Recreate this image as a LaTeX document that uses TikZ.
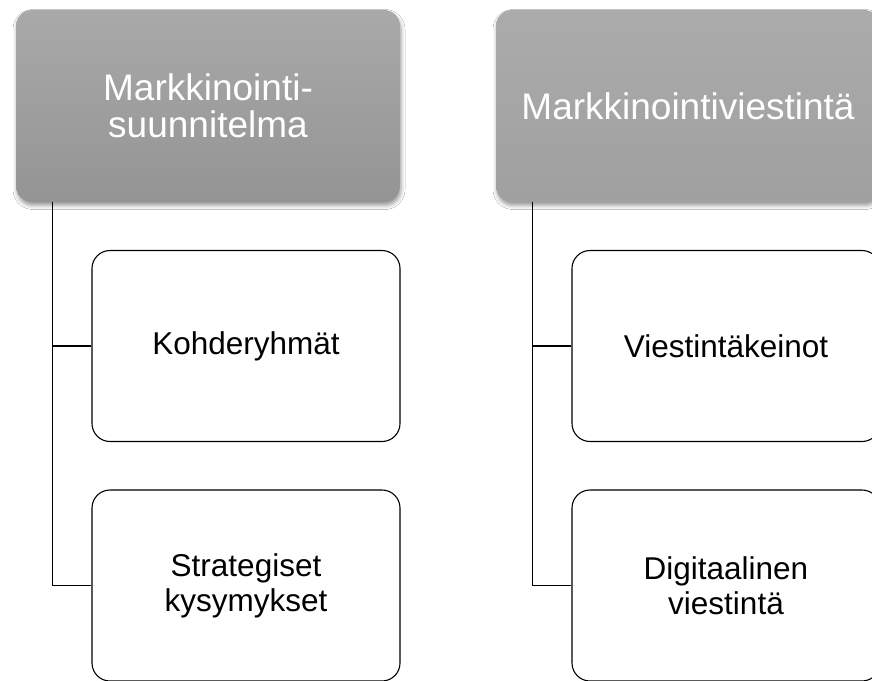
\documentclass[tikz,border=0pt]{standalone}
\usepackage{fontspec}
\setmainfont{Liberation Sans}
\usetikzlibrary{shadows.blur}
\definecolor{boxtop}{HTML}{A9A9A9}
\definecolor{boxbot}{HTML}{949494}
\definecolor{boxtopR}{HTML}{ABABAB}
\definecolor{boxbotR}{HTML}{A0A0A0}
\tikzset{
  headbox/.style={rounded corners=16pt, minimum width=384pt, minimum height=192pt,
    inner sep=0pt, text=white, align=center,
    font=\fontsize{37}{37}\selectfont,
    blur shadow={shadow xshift=1pt, shadow yshift=-3.5pt, shadow blur radius=4pt, shadow opacity=40}},
  childbox/.style={draw=black, line width=1.1pt, fill=white, rounded corners=18pt,
    minimum width=308pt, minimum height=191pt, inner sep=0pt, align=center,
    font=\fontsize{31.5}{35}\selectfont},
  conn/.style={draw=black, line width=1.1pt}
}
\begin{document}
\begin{tikzpicture}[x=1pt,y=-1pt]
\clip (0,0) rectangle (872,680);
\fill[white] (0,0) rectangle (872,680);
% left column
\node[headbox, top color=boxtop, bottom color=boxbot] (hl) at (208,106) {Markkinointi-\\suunnitelma};
\node[childbox] (l1) at (246,346) {Kohderyhmät};
\node[childbox] (l2) at (246,585.5) {Strategiset\\kysymykset};
\coordinate (jl) at ([xshift=37pt]hl.south west);
\draw[conn] (jl) |- (l1.west);
\draw[conn] (jl) |- (l2.west);
% right column
\node[headbox, top color=boxtopR, bottom color=boxbotR] (hr) at (688,106) {Markkinointiviestintä};
\node[childbox] (r1) at (726,346) {Viestintäkeinot};
\node[childbox] (r2) at (726,585.5) {Digitaalinen\\viestintä};
\coordinate (jr) at ([xshift=37pt]hr.south west);
\draw[conn] (jr) |- (r1.west);
\draw[conn] (jr) |- (r2.west);
\end{tikzpicture}
\end{document}
